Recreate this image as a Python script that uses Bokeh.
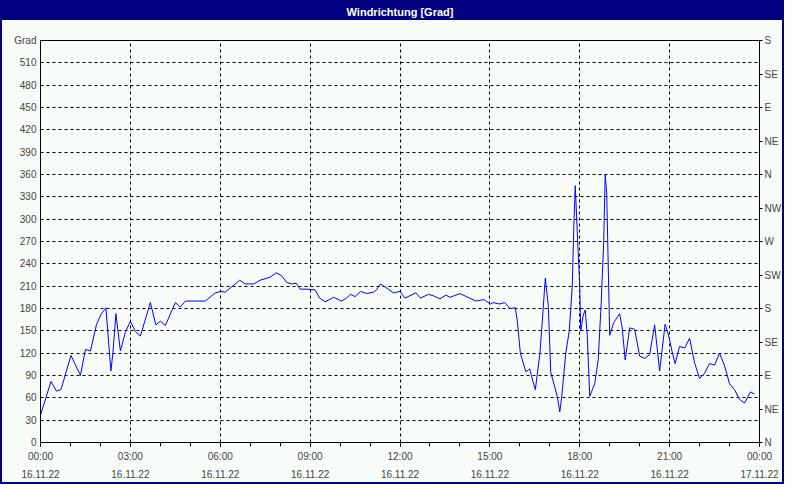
from bokeh.plotting import figure
from bokeh.models import LinearAxis, FixedTicker, Range1d, Grid
from bokeh.embed import file_html
from bokeh.resources import INLINE

# minutes after 16.11.22 00:00
minutes = [0, 21, 32, 41, 61, 80, 90, 100, 112, 121, 131, 141, 145, 151, 160, 170, 180, 190, 200,
           220, 231, 240, 250, 270, 280, 290, 330, 350, 361, 370, 390, 399, 410, 427, 440, 460,
           472, 483, 493, 503, 512, 520, 533, 550, 559, 570, 587, 603, 613, 621, 630, 641, 653,
           667, 673, 681, 690, 707, 720, 730, 752, 761, 777, 787, 800, 812, 820, 840, 853, 872,
           888, 901, 907, 919, 930, 940, 951, 955, 961, 972, 980, 983, 991, 1000, 1005, 1011,
           1017, 1022, 1035, 1040, 1044, 1052, 1059, 1065, 1068, 1071, 1075, 1080, 1082, 1087,
           1091, 1095, 1100, 1110, 1117, 1123, 1128, 1131, 1134, 1140, 1148, 1160, 1165, 1171,
           1180, 1190, 1200, 1210, 1220, 1230, 1240, 1251, 1259, 1265, 1271, 1280, 1290, 1300,
           1310, 1320, 1330, 1340, 1350, 1360, 1370, 1380, 1390, 1400, 1410, 1422, 1430]
direction = [37, 82, 69, 71, 117, 90, 125, 123, 158, 172, 181, 96, 120, 173, 123, 148, 163, 149, 143,
             188, 158, 163, 157, 188, 182, 190, 190, 201, 203, 202, 213, 218, 213, 213, 218, 222,
             228, 224, 215, 213, 214, 206, 206, 205, 194, 189, 195, 190, 194, 199, 196, 203, 200,
             202, 205, 213, 209, 201, 203, 194, 201, 194, 199, 197, 193, 198, 195, 200, 196, 190,
             192, 186, 188, 186, 188, 180, 181, 163, 120, 95, 99, 90, 71, 118, 163, 221,
             184, 94, 62, 41, 62, 120, 150, 210, 287, 345, 283, 210, 150, 171,
             178, 144, 62, 79, 111, 188, 270, 360, 334, 144, 161, 173, 154, 111,
             154, 152, 116, 113, 118, 158, 96, 159, 141, 122, 106, 129, 127, 140,
             107, 86, 93, 106, 104, 120, 103, 79, 71, 58, 53, 68, 65]

y_ticks = [0, 30, 60, 90, 120, 150, 180, 210, 240, 270, 300, 330, 360, 390, 420, 450, 480, 510, 540]
compass_ticks = [0, 45, 90, 135, 180, 225, 270, 315, 360, 405, 450, 495, 540]
compass_labels = ["N", "NE", "E", "SE", "S", "SW", "W", "NW", "N", "NE", "E", "SE", "S"]
x_ticks = [0, 180, 360, 540, 720, 900, 1080, 1260, 1440]
time_labels = ["00:00", "03:00", "06:00", "09:00", "12:00", "15:00", "18:00", "21:00", "00:00"]
date_labels = ["16.11.22"] * 8 + ["17.11.22"]
title_text = "Windrichtung [Grad]"

BG = "#F8FCF8"
NAVY = "#000080"
FONT = "Liberation Sans"
FS = "10px"

W, H = 784, 484
p = figure(width=W, height=H, output_backend="svg", toolbar_location=None,
           x_range=Range1d(0, 1440), y_range=Range1d(0, 540),
           min_border_left=40, min_border_right=24, min_border_top=40, min_border_bottom=42,
           background_fill_color=BG, border_fill_color=None, x_axis_type=None, y_axis_type=None)
p.styles = {"background": "linear-gradient(to bottom, #000080 0px, #000080 20px, #F8FCF8 20px, #F8FCF8 100%)",
            "outline": "2px solid #000080", "outline-offset": "-2px"}
p.outline_line_color = "black"
p.outline_line_width = 1

p.line(minutes, direction, line_color="#0000FF", line_width=1)

# title shown in the window bar
tx = LinearAxis(ticker=FixedTicker(ticks=[]), axis_label=title_text)
tx.axis_line_color = None
tx.major_tick_line_color = None
tx.minor_tick_line_color = None
tx.major_tick_out = 0
tx.minor_tick_out = 0
tx.major_label_standoff = 0
tx.axis_label_standoff = 23
tx.axis_label_text_color = "white"
tx.axis_label_text_font = FONT
tx.axis_label_text_font_style = "bold"
tx.axis_label_text_font_size = "11px"
p.add_layout(tx, "above")

# left axis
ly = LinearAxis(ticker=FixedTicker(ticks=y_ticks),
                major_label_overrides={540: "Grad"})
ly.major_tick_out = 0
ly.major_tick_in = 0
ly.minor_tick_out = 0
ly.major_label_standoff = 4
ly.major_label_text_font = FONT
ly.major_label_text_font_size = FS
ly.axis_line_color = "black"
p.add_layout(ly, "left")

# right compass axis
ry = LinearAxis(ticker=FixedTicker(ticks=compass_ticks),
                major_label_overrides={t: l for t, l in zip(compass_ticks, compass_labels)})
ry.major_tick_out = 3
ry.major_tick_in = 0
ry.minor_tick_out = 0
ry.major_label_standoff = 2
ry.major_label_text_font = FONT
ry.major_label_text_font_size = FS
p.add_layout(ry, "right")

# bottom time axis
bx = LinearAxis(ticker=FixedTicker(ticks=x_ticks, minor_ticks=list(range(0, 1441, 60))),
                major_label_overrides={t: l for t, l in zip(x_ticks, time_labels)})
bx.major_tick_out = 4
bx.major_tick_in = 0
bx.minor_tick_out = 4
bx.minor_tick_in = 0
bx.major_label_standoff = 4
bx.major_label_text_font = FONT
bx.major_label_text_font_size = FS
p.add_layout(bx, "below")

# bottom date axis
dx = LinearAxis(ticker=FixedTicker(ticks=x_ticks),
                major_label_overrides={t: l for t, l in zip(x_ticks, date_labels)})
dx.axis_line_color = None
dx.major_tick_line_color = None
dx.minor_tick_line_color = None
dx.major_tick_out = 0
dx.major_label_standoff = 5
dx.major_label_text_font = FONT
dx.major_label_text_font_size = FS
p.add_layout(dx, "below")

# grids
p.add_layout(Grid(dimension=0, ticker=bx.ticker, grid_line_color="black", grid_line_dash="3 3"))
p.add_layout(Grid(dimension=1, ticker=ly.ticker, grid_line_color="black", grid_line_dash="3 3"))

open("out.html", "w").write(file_html(p, INLINE))
